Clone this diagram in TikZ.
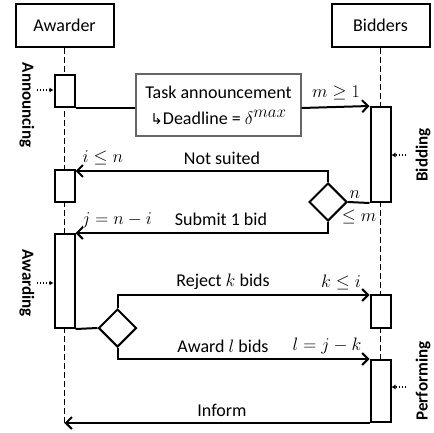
\RequirePackage{fix-cm}
\documentclass[tikz,border=0pt]{standalone}
\usepackage{fontspec}
\setmainfont{Carlito}
\newfontfamily\symfont{DejaVu Sans}
\usetikzlibrary{arrows.meta,shapes.geometric}
\begin{document}
\begin{tikzpicture}[x=1pt,y=1pt,
  every node/.style={font=\fontsize{18}{21}\selectfont, inner sep=1pt},
  lifebox/.style={draw, line width=2pt, fill=white, minimum width=98pt, minimum height=43pt},
  life/.style={line width=1.8pt, dash pattern=on 6pt off 3pt},
  act/.style={draw, line width=2pt, fill=white, minimum width=20pt, inner sep=0pt},
  taskbox/.style={draw=gray!80!black, line width=1.2pt, fill=white, minimum width=165pt, minimum height=62pt, align=center},
  conn/.style={line width=2pt},
  arr/.style={conn, -{Straight Barb[length=6pt,width=12pt]}},
  decide/.style={diamond, draw, line width=2pt, fill=white, minimum width=38pt, minimum height=38pt, inner sep=0pt},
  phase/.style={font=\fontsize{17}{20}\selectfont\bfseries},
  dotarr/.style={line width=1.1pt, dotted, -{Latex[length=4pt,width=5pt]}}
]
\useasboundingbox (0,-433) rectangle (433,0);

\node[lifebox] (awarder) at (64.5,-25.5) {Awarder};
\node[lifebox] (bidders) at (380.5,-25.5) {Bidders};
\coordinate (aend) at (64.5,-423);
\coordinate (bend) at (380.5,-422);
\draw[life] (awarder.south) -- (aend);
\draw[life] (bidders.south) -- (bend);

\node[act, minimum height=32pt] (a1) at (64.5,-91) {};
\node[act, minimum height=32pt] (a2) at (64.5,-186) {};
\node[act, minimum height=94pt] (a3) at (64.5,-281) {};
\node[act, minimum height=95pt] (b1) at (380.5,-154.5) {};
\node[act, minimum height=33pt] (b2) at (380.5,-311.5) {};
\node[act, minimum height=62pt] (b3) at (380.5,-391) {};

\node[taskbox] (task) at (218.5,-105) {Task announcement\\[5pt]{\symfont\fontsize{15}{18}\selectfont↳}Deadline = $\delta^{\scalebox{1.35}{$\scriptstyle max$}}$};

\node[decide] (d1) at (328,-202) {};
\node[decide] (d2) at (117.5,-328) {};

\draw[conn] (a1.south east) -- (task.west |- a1.south east);
\draw[arr] (task.east |- a1.south east) -- (b1.north west);
\draw[arr] (d1.north) |- ([yshift=-2pt]a2.north east);
\draw[conn] (d1.east) -- (b1.south west);
\draw[arr] (d1.south) |- (a3.north east);
\draw[conn] (a3.south east) -- (d2.west);
\draw[arr] (d2.north) |- ([yshift=-1pt]b2.north west);
\draw[arr] (d2.south) |- (b3.north west);
\draw[arr] (b3.south west) -- (aend);

\node (l1) at (336,-93) {$m\geq 1$};
\node (l2) at (103,-158) {$i\leq n$};
\node (l3) at (222,-158) {Not suited};
\node (l4) at (355,-195) {$n$};
\node (l5) at (359,-217) {$\leq m$};
\node (l6) at (117,-220) {$j=n-i$};
\node (l7) at (221,-219) {Submit 1 bid};
\node (l8) at (223,-282) {Reject $k$ bids};
\node (l9) at (341,-282) {$k\leq i$};
\node (l10) at (223,-346) {Award $l$ bids};
\node (l11) at (327,-346) {$l=j-k$};
\node (l12) at (222,-410) {Inform};

\node[phase, rotate=-90] (p1) at (27,-105) {Announcing};
\node[phase, rotate=-90] (p2) at (27,-283) {Awarding};
\node[phase, rotate=90] (p3) at (423,-155) {Bidding};
\node[phase, rotate=90] (p4) at (423,-381) {Performing};

\coordinate (s1) at (37,-90);
\coordinate (s2) at (37,-283);
\coordinate (s3) at (406,-155);
\coordinate (s4) at (406,-387);
\draw[dotarr] (s1) -- (s1 -| a1.west);
\draw[dotarr] (s2) -- (s2 -| a3.west);
\draw[dotarr] (s3) -- (s3 -| b1.east);
\draw[dotarr] (s4) -- (s4 -| b3.east);
\end{tikzpicture}
\end{document}
